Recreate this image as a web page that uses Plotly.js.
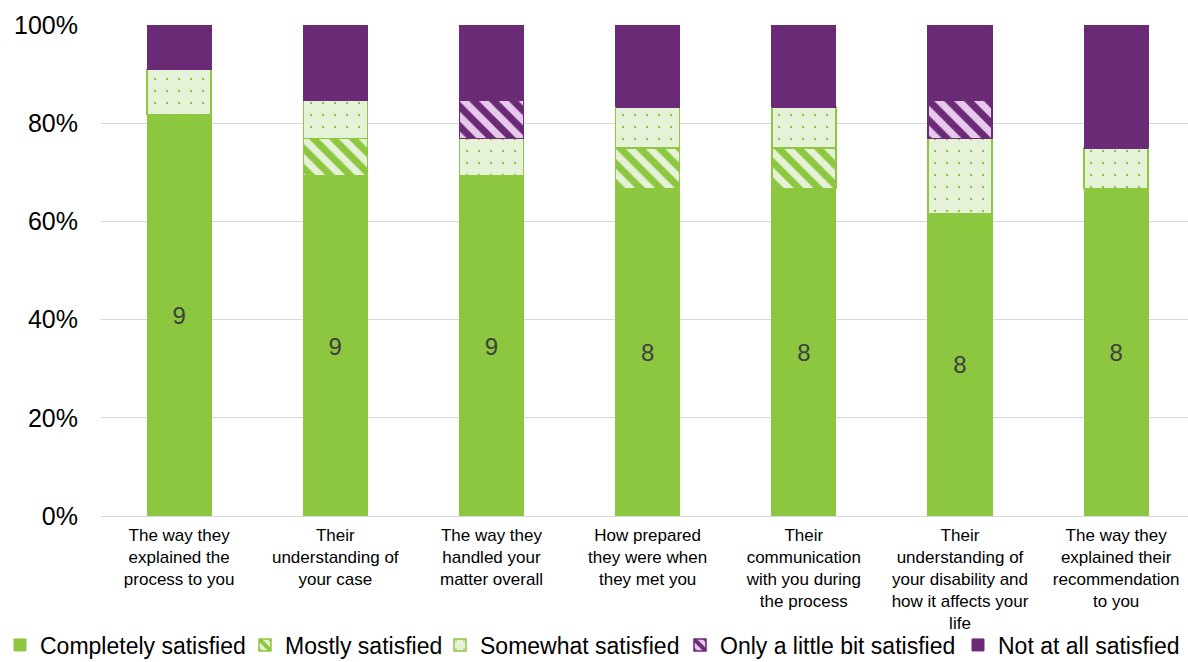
<!DOCTYPE html>
<html>
<head>
<meta charset="utf-8">
<script src="https://cdn.plot.ly/plotly-3.0.1.min.js"></script>
<style>html,body{margin:0;padding:0;background:#fff;}#chart{width:1188px;height:662px;}</style>
</head>
<body>
<div id="chart"></div>
<script>
const categories = [
  "The way they<br>explained the<br>process to you",
  "Their<br>understanding of<br>your case",
  "The way they<br>handled your<br>matter overall",
  "How prepared<br>they were when<br>they met you",
  "Their<br>communication<br>with you during<br>the process",
  "Their<br>understanding of<br>your disability and<br>how it affects your<br>life",
  "The way they<br>explained their<br>recommendation<br>to you"
];
const completelySatisfied = [9, 9, 9, 8, 8, 8, 8];
const mostlySatisfied     = [0, 1, 0, 1, 1, 0, 0];
const somewhatSatisfied   = [1, 1, 1, 1, 1, 2, 1];
const littleBitSatisfied  = [0, 0, 1, 0, 0, 1, 0];
const notAtAllSatisfied   = [1, 2, 2, 2, 2, 2, 3];

const GREEN = "#8DC63F";
const LIGHTGREEN = "#E6F2D8";
const PURPLE = "#6B2A75";
const PINK = "#E8C9EE";

const xs = categories.map((c, i) => i);

const traces = [
  {
    name: "Completely satisfied", x: xs, y: completelySatisfied, type: "bar", legend: "legend",
    text: completelySatisfied.map(String), textposition: "inside", insidetextanchor: "middle",
    textangle: 0, textfont: {size: 24, color: "#404040", family: "Liberation Sans, Arial, sans-serif"},
    marker: {color: GREEN, line: {color: GREEN, width: 1}}
  },
  {
    name: "Mostly satisfied", x: xs, y: mostlySatisfied, type: "bar", textposition: "none", legend: "legend2",
    marker: {color: LIGHTGREEN, line: {color: GREEN, width: 1.5},
      pattern: {shape: "\\", fgcolor: GREEN, bgcolor: LIGHTGREEN, size: 14, solidity: 0.5, fillmode: "replace"}}
  },
  {
    name: "Somewhat satisfied", x: xs, y: somewhatSatisfied, type: "bar", textposition: "none", legend: "legend3",
    marker: {color: LIGHTGREEN, line: {color: GREEN, width: 1.5},
      pattern: {shape: ".", fgcolor: GREEN, bgcolor: LIGHTGREEN, size: 12, solidity: 0.03, fillmode: "replace"}}
  },
  {
    name: "Only a little bit satisfied", x: xs, y: littleBitSatisfied, type: "bar", textposition: "none", legend: "legend4",
    marker: {color: PINK, line: {color: PURPLE, width: 1.5},
      pattern: {shape: "\\", fgcolor: PURPLE, bgcolor: PINK, size: 14, solidity: 0.5, fillmode: "replace"}}
  },
  {
    name: "Not at all satisfied", x: xs, y: notAtAllSatisfied, type: "bar", textposition: "none", legend: "legend5",
    marker: {color: PURPLE, line: {color: PURPLE, width: 1}}
  }
];

function leg(px) {
  return {
    orientation: "h", xref: "container", yref: "container",
    x: px / 1188, xanchor: "left", y: 17 / 662, yanchor: "middle",
    font: {size: 23, color: "#000000"}, bgcolor: "rgba(0,0,0,0)",
    itemclick: false, itemdoubleclick: false
  };
}

const layout = {
  width: 1188, height: 662,
  margin: {l: 101, r: 0, t: 25, b: 146},
  barmode: "stack", barnorm: "percent", bargap: 0.59,
  paper_bgcolor: "#ffffff", plot_bgcolor: "#ffffff",
  font: {family: "Liberation Sans, Arial, sans-serif", color: "#000000"},
  showlegend: true,
  legend: leg(0),
  legend2: leg(245),
  legend3: leg(440),
  legend4: leg(680),
  legend5: leg(958),
  xaxis: {
    tickmode: "array", tickvals: xs, ticktext: categories,
    range: [-0.5, 6.46], showgrid: false, zeroline: false, showline: false,
    ticks: "", tickfont: {size: 17, color: "#000000"}, ticklabelstandoff: 7, fixedrange: true
  },
  yaxis: {
    range: [0, 100], dtick: 20, ticksuffix: "%",
    showgrid: true, gridcolor: "#D9D9D9", gridwidth: 1,
    zeroline: true, zerolinecolor: "#D9D9D9", zerolinewidth: 1,
    showline: false, ticks: "", tickfont: {size: 25, color: "#000000"},
    ticklabelstandoff: 22, fixedrange: true
  }
};

Plotly.newPlot("chart", traces, layout, {displayModeBar: false, staticPlot: true});
</script>
</body>
</html>
